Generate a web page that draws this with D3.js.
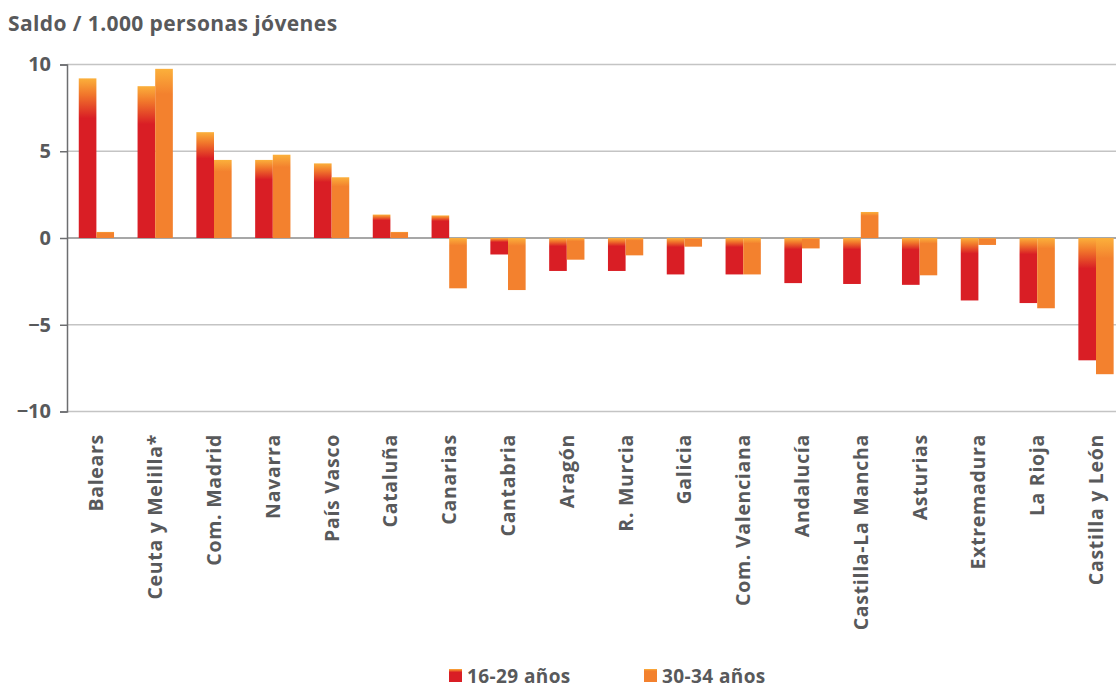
<!DOCTYPE html>
<html>
<head>
<meta charset="utf-8">
<script src="https://cdn.jsdelivr.net/npm/d3@7"></script>
<style>
  body { margin: 0; background: #fff; }
  svg text { font-family: "Open Sans", Roboto, sans-serif; font-weight: 700; fill: #58595b; }
</style>
</head>
<body>
<svg id="chart" width="1116" height="686"></svg>
<script>
// regiones y saldos por 1.000 jovenes
var regions = ["Balears", "Ceuta y Melilla*", "Com. Madrid", "Navarra", "País Vasco", "Cataluña",
  "Canarias", "Cantabria", "Aragón", "R. Murcia", "Galicia", "Com. Valenciana", "Andalucía",
  "Castilla-La Mancha", "Asturias", "Extremadura", "La Rioja", "Castilla y León"];
var young = [9.2, 8.75, 6.1, 4.5, 4.3, 1.35, 1.3, -0.95, -1.9, -1.9, -2.1, -2.1, -2.6, -2.65, -2.7, -3.6, -3.75, -7.05];
var older = [0.35, 9.75, 4.5, 4.8, 3.5, 0.35, -2.9, -3.0, -1.25, -1.0, -0.5, -2.1, -0.6, 1.5, -2.15, -0.4, -4.05, -7.85];
var seriesNames = ["16-29 años", "30-34 años"];
var yTicks = [-10, -5, 0, 5, 10];

var svg = d3.select("#chart");

// gradients: light top fading into the solid colour
var defs = svg.append("defs");
var g1 = defs.append("linearGradient").attr("id", "gradRed").attr("x1", 0).attr("y1", 0).attr("x2", 0).attr("y2", 1);
g1.append("stop").attr("offset", "0%").attr("stop-color", "#fbb03b");
g1.append("stop").attr("offset", "10%").attr("stop-color", "#f1772b");
g1.append("stop").attr("offset", "25%").attr("stop-color", "#d91e25");
g1.append("stop").attr("offset", "100%").attr("stop-color", "#d91e25");
var g2 = defs.append("linearGradient").attr("id", "gradOrange").attr("x1", 0).attr("y1", 0).attr("x2", 0).attr("y2", 1);
g2.append("stop").attr("offset", "0%").attr("stop-color", "#fbb03b");
g2.append("stop").attr("offset", "15%").attr("stop-color", "#f3812e");
g2.append("stop").attr("offset", "100%").attr("stop-color", "#f3812e");
var fills = ["url(#gradRed)", "url(#gradOrange)"];

var plotLeft = 67, plotTop = 64.5, plotBottom = 411.5;
var x = d3.scaleBand().domain(regions).range([plotLeft, plotLeft + 18 * 58.8]).paddingInner(0.4).paddingOuter(0.2);
var y = d3.scaleLinear().domain([-10, 10]).range([plotBottom, plotTop]);

// gridlines
svg.append("g").selectAll("line").data(yTicks).join("line")
  .attr("x1", plotLeft).attr("x2", 1116)
  .attr("y1", function(d) { return y(d); }).attr("y2", function(d) { return y(d); })
  .attr("stroke", function(d) { return d == 0 ? "#8a8a8a" : "#c4c4c4"; })
  .attr("stroke-width", 1.5);

// y axis
var yAxis = svg.append("g").attr("transform", "translate(" + plotLeft + ",0)")
  .call(d3.axisLeft(y).tickValues(yTicks).tickSize(7).tickPadding(9).tickFormat(d3.format("d")));
yAxis.select(".domain").attr("stroke", "#6d6e70").attr("stroke-width", 1.5);
yAxis.selectAll(".tick line").attr("stroke", "#6d6e70").attr("stroke-width", 1.5);
yAxis.selectAll("text").style("font-size", "20px").attr("fill", "#58595b")
  .style("font-family", "'Open Sans', sans-serif").style("font-weight", 700);

var bw = x.bandwidth() / 2;
var data = [];
regions.forEach(function(r, i) {
  data.push({ region: r, s: 0, v: young[i] });
  data.push({ region: r, s: 1, v: older[i] });
});

svg.append("g").selectAll("rect").data(data).join("rect")
  .attr("x", function(d) { return x(d.region) + d.s * bw; })
  .attr("width", bw)
  .attr("y", function(d) { return y(Math.max(0, d.v)); })
  .attr("height", function(d) { return Math.abs(y(d.v) - y(0)); })
  .attr("fill", function(d) { return fills[d.s]; });

// category labels
svg.append("g").selectAll("text").data(regions).join("text")
  .attr("transform", function(d) { return "translate(" + (x(d) + x.bandwidth() / 2) + ",434) rotate(-90)"; })
  .attr("text-anchor", "end")
  .attr("dy", "0.36em")
  .style("font-size", "19.5px")
  .style("letter-spacing", "0.7px")
  .text(function(d) { return d; });

// title
svg.append("text").attr("x", 8).attr("y", 31).style("font-size", "21px").style("letter-spacing", "0.4px")
  .text("Saldo / 1.000 personas jóvenes");

// legend
var legX = [449, 644];
var leg = svg.append("g").selectAll("g").data(seriesNames).join("g")
  .attr("transform", function(d, i) { return "translate(" + legX[i] + ",669)"; });
leg.append("rect").attr("width", 13).attr("height", 13)
  .attr("fill", function(d, i) { return fills[i]; });
leg.append("text").attr("x", 18).attr("y", 14).style("font-size", "19px").style("letter-spacing", "0.4px")
  .text(function(d) { return d; });
</script>
</body>
</html>
